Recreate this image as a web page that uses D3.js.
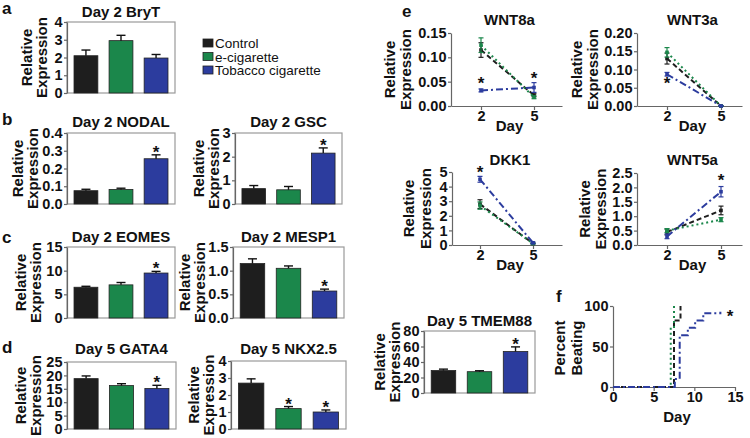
<!DOCTYPE html>
<html>
<head>
<meta charset="utf-8">
<script src="https://cdn.jsdelivr.net/npm/d3@7"></script>
<style>
body { margin: 0; background: #fff; }
text { font-family: "Liberation Sans", Arial, sans-serif; }
.tick text { font-size: 14.5px; font-weight: bold; fill: #111; }
</style>
</head>
<body>
<svg width="750" height="438"></svg>
<script>
// groups
const groups = ["Control", "e-cigarette", "Tobacco cigarette"];
const groupColors = ["#1e1e1e", "#1b874b", "#2c3c9e"];
const groupDash = ["5,3", "2,3", "7,3,2,3"];

// bar panels: mean, error, significance star
const bryTMean = [2.1, 2.95, 1.97], bryTErr = [0.32, 0.3, 0.2], bryTSig = [0, 0, 0];
const nodalMean = [0.075, 0.082, 0.255], nodalErr = [0.008, 0.007, 0.022], nodalSig = [0, 0, 1];
const gscMean = [0.65, 0.6, 2.15], gscErr = [0.13, 0.14, 0.22], gscSig = [0, 0, 1];
const eomesMean = [6.5, 7.0, 9.5], eomesErr = [0.2, 0.5, 0.35], eomesSig = [0, 0, 1];
const mesp1Mean = [1.15, 1.05, 0.57], mesp1Err = [0.1, 0.05, 0.04], mesp1Sig = [0, 0, 1];
const gata4Mean = [18.8, 16.2, 15.1], gata4Err = [1.0, 0.7, 1.2], gata4Sig = [0, 0, 1];
const nkxMean = [2.7, 1.2, 1.0], nkxErr = [0.25, 0.12, 0.12], nkxSig = [0, 1, 1];
const tmem88Mean = [29, 27.5, 53.5], tmem88Err = [1.8, 1.2, 6], tmem88Sig = [0, 0, 1];

// line panels: days 2 and 5, one row per group
const days = [2, 5];
const wnt8aMean = [[0.115, 0.022], [0.125, 0.018], [0.032, 0.038]];
const wnt8aErr = [[0.015, 0.003], [0.015, 0.003], [0.003, 0.01]];
const wnt8aStars = [[2, 0.049], [5, 0.06]];
const wnt3aMean = [[0.13, 0.0], [0.147, 0.0], [0.087, 0.0]];
const wnt3aErr = [[0.015, 0.001], [0.013, 0.001], [0.005, 0.001]];
const wnt3aStars = [[2, 0.065]];
const dkk1Mean = [[2.8, 0.1], [2.7, 0.1], [4.5, 0.15]];
const dkk1Err = [[0.3, 0.03], [0.25, 0.03], [0.2, 0.05]];
const dkk1Stars = [[2, 5.1]];
const wnt5aMean = [[0.45, 1.2], [0.5, 0.88], [0.3, 1.85]];
const wnt5aErr = [[0.1, 0.15], [0.07, 0.07], [0.08, 0.18]];
const wnt5aStars = [[5, 2.3]];

// percent beating (step curves)
const beatCtrlDay = [0, 7.5, 8.3], beatCtrlPct = [0, 82, 100];
const beatEcigDay = [0, 7.1, 7.5], beatEcigPct = [0, 72, 100];
const beatTobDay = [0, 7.6, 8.2, 9.2, 10.1, 11.1, 13.2], beatTobPct = [0, 10, 64, 73, 82, 91, 93];

const svg = d3.select("svg");
const frameColor = "#9a9a9a";
const axisColor = "#666";

function styleAxis(g) {
    g.attr("font-family", null).attr("font-size", null);
    g.select(".domain").attr("stroke", axisColor).attr("stroke-width", 1.2);
    g.selectAll(".tick line").attr("stroke", axisColor).attr("stroke-width", 1.2);
}

function yLabel(l1, l2, x1, x2, yc, size) {
    [[l1, x1], [l2, x2]].forEach(([t, x]) => {
        svg.append("text")
            .attr("transform", `translate(${x},${yc}) rotate(-90)`)
            .attr("text-anchor", "middle")
            .attr("font-size", size || 15)
            .attr("font-weight", "bold")
            .attr("fill", "#111")
            .text(t);
    });
}

function title(txt, x, y) {
    svg.append("text").attr("x", x).attr("y", y)
        .attr("text-anchor", "middle").attr("font-size", 15).attr("font-weight", "bold")
        .attr("fill", "#111").text(txt);
}

function star(x, y) {
    svg.append("text").attr("x", x).attr("y", y)
        .attr("text-anchor", "middle").attr("font-size", 17).attr("font-weight", "bold")
        .attr("fill", "#111").text("*");
}

function drawBars(p) {
    const x = d3.scaleBand().domain(groups).range([p.x0, p.x1]).paddingInner(0.32).paddingOuter(0.2);
    const y = d3.scaleLinear().domain([0, p.max]).range([p.y1, p.y0]);
    const g = svg.append("g");
    g.append("rect")
        .attr("x", p.x0).attr("y", p.y0)
        .attr("width", p.x1 - p.x0).attr("height", p.y1 - p.y0)
        .attr("fill", "none").attr("stroke", frameColor).attr("stroke-width", 1.2);
    g.selectAll("rect.bar")
        .data(p.mean)
        .join("rect")
        .attr("class", "bar")
        .attr("x", (_d, i) => x(groups[i]))
        .attr("y", d => y(d))
        .attr("width", x.bandwidth())
        .attr("height", d => p.y1 - y(d))
        .attr("fill", (_d, i) => groupColors[i])
        .attr("stroke", "#222").attr("stroke-width", 0.8);
    p.mean.forEach((m, i) => {
        const cx = x(groups[i]) + x.bandwidth() / 2;
        const top = y(m + p.err[i]);
        g.append("line").attr("x1", cx).attr("x2", cx).attr("y1", y(m)).attr("y2", top)
            .attr("stroke", "#111").attr("stroke-width", 1.4);
        g.append("line").attr("x1", cx - 4.5).attr("x2", cx + 4.5).attr("y1", top).attr("y2", top)
            .attr("stroke", "#111").attr("stroke-width", 1.4);
        if (p.sig[i]) star(cx, top + 3);
    });
    g.append("g")
        .attr("transform", `translate(${p.x0},0)`)
        .call(d3.axisLeft(y).tickValues(p.ticks).tickFormat(d3.format(p.fmt)).tickSize(3).tickPadding(1.5).tickSizeOuter(0))
        .call(styleAxis);
    title(p.title, (p.x0 + p.x1) / 2, p.titleY);
    yLabel("Relative", "Expression", p.lab1, p.lab2, (p.y0 + p.y1) / 2);
}

function drawLines(p) {
    const x = d3.scaleLinear().domain([2, 5]).range([p.d2, p.d5]);
    x.domain([x.invert(p.x0), x.invert(p.x1)]).range([p.x0, p.x1]);
    const y = d3.scaleLinear().domain([0, p.max]).range([p.y1, p.y0]);
    const g = svg.append("g");
    g.append("g")
        .attr("transform", `translate(0,${p.y1})`)
        .call(d3.axisBottom(x).tickValues(days).tickFormat(d3.format("d")).tickSize(4).tickPadding(1).tickSizeOuter(0))
        .call(styleAxis);
    g.append("g")
        .attr("transform", `translate(${p.x0},0)`)
        .call(d3.axisLeft(y).tickValues(p.ticks).tickFormat(d3.format(p.fmt)).tickSize(3).tickPadding(1.5).tickSizeOuter(0))
        .call(styleAxis);
    const line = d3.line().x((_d, i) => x(days[i])).y(d => y(d));
    p.mean.forEach((series, s) => {
        g.append("path").datum(series)
            .attr("d", line)
            .attr("fill", "none")
            .attr("stroke", groupColors[s])
            .attr("stroke-width", 2)
            .attr("stroke-dasharray", groupDash[s]);
        series.forEach((m, i) => {
            const cx = x(days[i]);
            const e = p.err[s][i];
            g.append("line").attr("x1", cx).attr("x2", cx).attr("y1", y(m - e)).attr("y2", y(m + e))
                .attr("stroke", groupColors[s]).attr("stroke-width", 1.2);
            [m - e, m + e].forEach(v => {
                g.append("line").attr("x1", cx - 2.5).attr("x2", cx + 2.5).attr("y1", y(v)).attr("y2", y(v))
                    .attr("stroke", groupColors[s]).attr("stroke-width", 1.2);
            });
            g.append("rect").attr("x", cx - 1.8).attr("y", y(m) - 1.8).attr("width", 3.6).attr("height", 3.6)
                .attr("fill", groupColors[s]);
        });
    });
    p.stars.forEach(([d, v]) => star(x(d), y(v) + 7));
    title(p.title, (p.x0 + p.x1) / 2 + 3, p.titleY);
    svg.append("text").attr("x", (p.x0 + p.x1) / 2 + 3).attr("y", p.dayY)
        .attr("text-anchor", "middle").attr("font-size", 15).attr("font-weight", "bold")
        .attr("fill", "#111").text("Day");
    yLabel("Relative", "Expression", p.lab1, p.lab2, (p.y0 + p.y1) / 2);
}

// panel letters
[["a", 2, 14], ["b", 2, 125], ["c", 2, 243], ["d", 2, 353], ["e", 402, 17], ["f", 556, 302]].forEach(([t, x, y]) => {
    svg.append("text").attr("x", x).attr("y", y).attr("font-size", 17).attr("font-weight", "bold")
        .attr("fill", "#111").text(t);
});

// legend
groups.forEach((name, i) => {
    const yc = 43 + i * 13.5;
    svg.append("rect").attr("x", 203).attr("y", yc - 4).attr("width", 10).attr("height", 8)
        .attr("fill", groupColors[i]).attr("stroke", "#222").attr("stroke-width", 0.8);
    svg.append("text").attr("x", 215).attr("y", yc + 5).attr("font-size", 13.5).attr("fill", "#111").text(name);
});

const intTicks = n => d3.range(0, n + 1);

drawBars({ title: "Day 2 BryT", mean: bryTMean, err: bryTErr, sig: bryTSig, max: 4, ticks: intTicks(4), fmt: "d",
    x0: 67, x1: 175, y0: 22, y1: 93, titleY: 17, lab1: 32, lab2: 47 });
drawBars({ title: "Day 2 NODAL", mean: nodalMean, err: nodalErr, sig: nodalSig, max: 0.4, ticks: [0, 0.1, 0.2, 0.3, 0.4], fmt: ".1f",
    x0: 67, x1: 175, y0: 133, y1: 204, titleY: 127, lab1: 23, lab2: 38 });
drawBars({ title: "Day 2 GSC", mean: gscMean, err: gscErr, sig: gscSig, max: 3, ticks: intTicks(3), fmt: "d",
    x0: 235, x1: 342, y0: 133, y1: 204, titleY: 127, lab1: 204, lab2: 219 });
drawBars({ title: "Day 2 EOMES", mean: eomesMean, err: eomesErr, sig: eomesSig, max: 15, ticks: [0, 5, 10, 15], fmt: "d",
    x0: 67, x1: 175, y0: 247, y1: 318, titleY: 242, lab1: 26, lab2: 41 });
drawBars({ title: "Day 2 MESP1", mean: mesp1Mean, err: mesp1Err, sig: mesp1Sig, max: 1.5, ticks: [0, 0.5, 1, 1.5], fmt: ".1f",
    x0: 233, x1: 344, y0: 247, y1: 318, titleY: 242, lab1: 190, lab2: 205 });
drawBars({ title: "Day 5 GATA4", mean: gata4Mean, err: gata4Err, sig: gata4Sig, max: 25, ticks: [0, 5, 10, 15, 20, 25], fmt: "d",
    x0: 67, x1: 176, y0: 362, y1: 429, titleY: 354, lab1: 26, lab2: 41 });
drawBars({ title: "Day 5 NKX2.5", mean: nkxMean, err: nkxErr, sig: nkxSig, max: 4, ticks: intTicks(4), fmt: "d",
    x0: 231, x1: 346, y0: 361, y1: 429, titleY: 354, lab1: 199, lab2: 214 });
drawBars({ title: "Day 5 TMEM88", mean: tmem88Mean, err: tmem88Err, sig: tmem88Sig, max: 80, ticks: [0, 20, 40, 60, 80], fmt: "d",
    x0: 424, x1: 535, y0: 331, y1: 393, titleY: 326, lab1: 385, lab2: 400 });

drawLines({ title: "WNT8a", mean: wnt8aMean, err: wnt8aErr, stars: wnt8aStars, max: 0.15, ticks: [0, 0.05, 0.1, 0.15], fmt: ".2f",
    x0: 451, x1: 562, d2: 481, d5: 534, y0: 33, y1: 106, titleY: 25, dayY: 131, lab1: 395, lab2: 411 });
drawLines({ title: "WNT3a", mean: wnt3aMean, err: wnt3aErr, stars: wnt3aStars, max: 0.2, ticks: [0, 0.05, 0.1, 0.15, 0.2], fmt: ".2f",
    x0: 637, x1: 742, d2: 667, d5: 721, y0: 33, y1: 106, titleY: 25, dayY: 131, lab1: 582, lab2: 598 });
drawLines({ title: "DKK1", mean: dkk1Mean, err: dkk1Err, stars: dkk1Stars, max: 5, ticks: intTicks(5), fmt: "d",
    x0: 452, x1: 562, d2: 480, d5: 533, y0: 172, y1: 245, titleY: 165, dayY: 270, lab1: 414, lab2: 431 });
drawLines({ title: "WNT5a", mean: wnt5aMean, err: wnt5aErr, stars: wnt5aStars, max: 2.5, ticks: [0, 0.5, 1, 1.5, 2, 2.5], fmt: ".1f",
    x0: 637, x1: 742, d2: 667, d5: 721, y0: 173, y1: 245, titleY: 165, dayY: 270, lab1: 590, lab2: 606 });

// panel f: percent beating
(function () {
    const x = d3.scaleLinear().domain([0, 15]).range([613, 735]);
    const y = d3.scaleLinear().domain([0, 100]).range([387, 306]);
    svg.append("g").attr("transform", "translate(0,387)")
        .call(d3.axisBottom(x).tickValues([0, 5, 10, 15]).tickSize(4).tickPadding(1).tickSizeOuter(0))
        .call(styleAxis);
    svg.append("g").attr("transform", "translate(613,0)")
        .call(d3.axisLeft(y).tickValues([0, 50, 100]).tickSize(3).tickPadding(1.5).tickSizeOuter(0))
        .call(styleAxis);
    const step = d3.line().curve(d3.curveStepAfter).x(d => x(d[0])).y(d => y(d[1]));
    const curves = [
        d3.zip(beatCtrlDay, beatCtrlPct),
        d3.zip(beatEcigDay, beatEcigPct),
        d3.zip(beatTobDay, beatTobPct)
    ];
    curves.forEach((c, s) => {
        svg.append("path").datum(c).attr("d", step).attr("fill", "none")
            .attr("stroke", groupColors[s]).attr("stroke-width", 2).attr("stroke-dasharray", groupDash[s]);
    });
    star(x(14.4), y(91) + 9);
    svg.append("text").attr("x", 677).attr("y", 422).attr("text-anchor", "middle")
        .attr("font-size", 15).attr("font-weight", "bold").attr("fill", "#111").text("Day");
    yLabel("Percent", "Beating", 565, 582, 348);
})();
</script>
</body>
</html>
